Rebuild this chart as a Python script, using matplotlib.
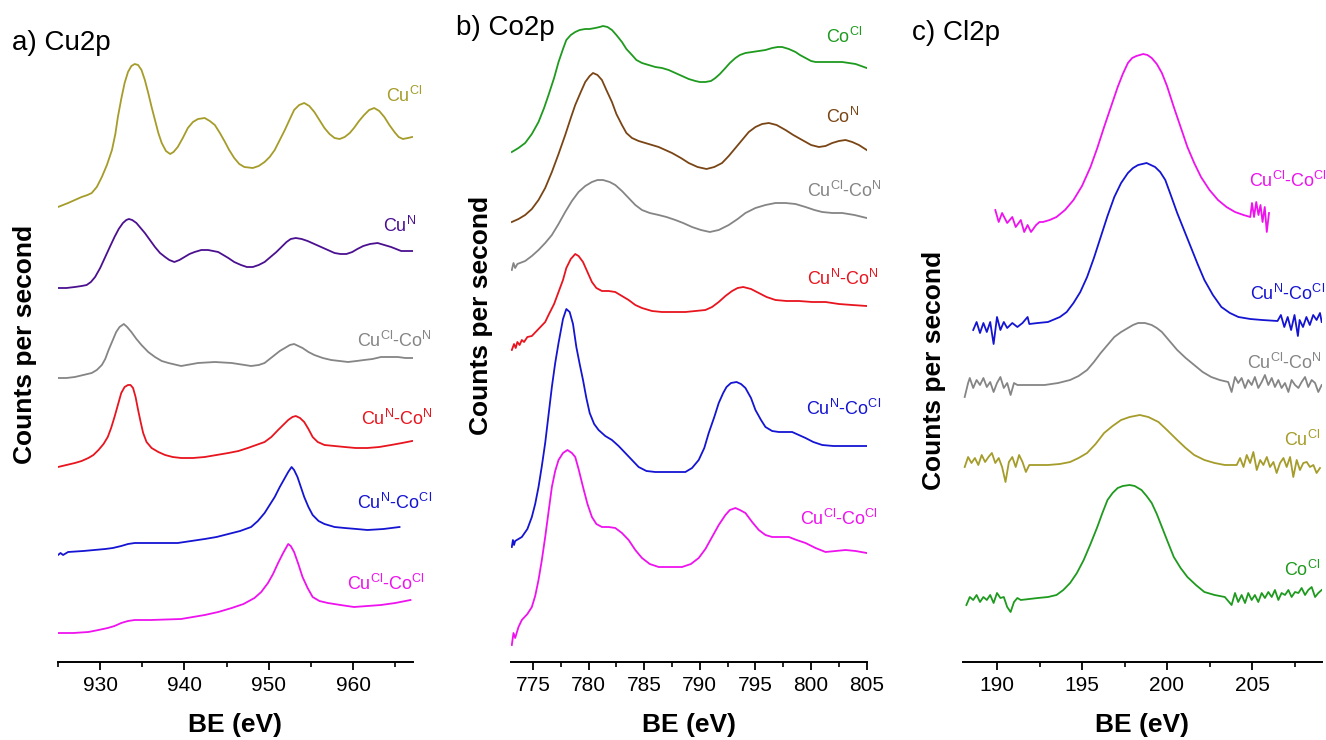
import matplotlib
matplotlib.use('Agg')
import matplotlib.pyplot as plt
import numpy as np
from matplotlib.ticker import MultipleLocator

plt.rcParams['font.family'] = ['Liberation Sans', 'DejaVu Sans']
plt.rcParams['mathtext.fontset'] = 'custom'
plt.rcParams['mathtext.rm'] = 'Liberation Sans'

# ---------------- Panel a) Cu2p (BE in eV, counts in arbitrary units) ----------------
a_CuCl_be = [925.0, 926.2, 927.0, 927.8, 928.5, 929.0, 929.6, 930.2, 930.8, 931.4, 931.8, 932.1, 932.5, 932.9,
             933.3, 933.7, 934.1, 934.5, 934.9, 935.3, 935.7, 936.1, 936.5, 936.9, 937.3, 937.8, 938.3, 938.7,
             939.2, 939.8, 940.4, 941.0, 941.6, 942.4, 943.0, 943.6, 944.2, 944.8, 945.3, 945.9, 946.5, 947.1,
             948.1, 948.8, 949.5, 950.1, 950.7, 951.3, 951.9, 952.5, 953.0, 953.6, 954.2, 954.8, 955.4, 956.0,
             956.6, 957.2, 957.8, 958.4, 959.0, 959.6, 960.1, 960.7, 961.3, 961.9, 962.5, 963.1, 963.7, 964.3,
             964.9, 965.4, 965.9, 966.5, 967.0]
a_CuCl_cps = [455, 459, 462, 465, 467, 469, 475, 485, 497, 512, 528, 545, 563, 579,
              590, 596, 598, 597, 592, 582, 569, 555, 542, 529, 519, 511, 508, 510,
              515, 524, 534, 540, 543, 544, 541, 537, 529, 520, 512, 504, 498, 495,
              494, 496, 500, 505, 512, 522, 532, 543, 552, 557, 559, 556, 550, 542,
              534, 528, 524, 523, 525, 529, 534, 541, 547, 552, 554, 551, 545, 537,
              530, 525, 523, 524, 525]

a_CuN_be = [925.0, 926.0, 927.0, 927.8, 928.4, 928.9, 929.4, 930.0, 930.6, 931.2, 931.7, 932.2, 932.7, 933.1,
            933.4, 933.8, 934.3, 934.8, 935.3, 935.9, 936.5, 937.1, 937.7, 938.2, 938.8, 939.4, 940.0, 940.6,
            941.2, 942.0, 942.8, 943.4, 944.0, 944.6, 945.2, 945.9, 946.7, 947.4, 948.1, 948.8, 949.5, 950.2,
            950.9, 951.5, 952.1, 952.6, 953.2, 953.9, 954.6, 955.4, 956.2, 957.0, 957.8, 958.5, 959.2, 959.9,
            960.5, 961.2, 962.0, 962.9, 963.7, 964.5, 965.1, 965.7, 966.4, 967.0]
a_CuN_cps = [374, 374, 375, 376, 377, 380, 385, 394, 405, 416, 425, 433, 439, 442,
             443, 442, 439, 434, 429, 422, 415, 409, 405, 402, 400, 402, 405, 408,
             410, 412, 412, 411, 410, 407, 404, 400, 397, 395, 395, 397, 400, 405,
             410, 415, 420, 423, 424, 423, 421, 418, 415, 412, 409, 408, 408, 410,
             413, 416, 418, 419, 417, 415, 413, 411, 411, 411]

a_CuClCoN_be = [925.0, 926.0, 927.0, 928.0, 929.0, 929.6, 930.2, 930.6, 931.0, 931.5, 931.9, 932.3, 932.8,
                933.2, 933.7, 934.3, 934.9, 935.7, 936.5, 937.3, 938.1, 939.6, 941.6, 943.6, 945.6, 947.9,
                948.8, 949.5, 950.1, 950.7, 951.3, 951.9, 952.5, 953.0, 953.5, 954.0, 954.7, 955.4, 956.4,
                957.4, 958.4, 959.4, 960.4, 961.3, 962.3, 963.3, 964.3, 965.3, 966.2, 967.0]
a_CuClCoN_cps = [284, 284, 285, 287, 289, 292, 297, 303, 312, 322, 330, 335, 338,
                 335, 330, 323, 317, 310, 305, 301, 299, 296, 299, 300, 299, 296,
                 297, 299, 303, 307, 311, 314, 317, 318, 316, 314, 310, 307, 304,
                 302, 301, 300, 301, 302, 303, 305, 305, 305, 304, 304]

a_CuNCoN_be = [925.0, 926.0, 927.0, 927.8, 928.6, 929.2, 929.8, 930.4, 930.9, 931.3, 931.7, 932.1, 932.5,
               932.9, 933.3, 933.6, 933.9, 934.2, 934.5, 934.8, 935.1, 935.5, 936.1, 936.9, 937.7, 938.6,
               939.6, 941.0, 942.4, 943.8, 945.2, 946.4, 947.5, 948.5, 949.5, 950.3, 951.1, 951.7, 952.3,
               952.8, 953.2, 953.7, 954.2, 954.7, 955.2, 955.8, 956.6, 957.8, 959.0, 960.3, 961.7, 963.1,
               964.5, 965.8, 967.0]
a_CuNCoN_cps = [195, 197, 199, 201, 204, 207, 212, 218, 225, 234, 245, 257, 269,
                275, 277, 277, 274, 265, 252, 240, 229, 220, 214, 210, 207, 205,
                204, 204, 205, 207, 209, 211, 214, 217, 220, 225, 232, 237, 242,
                245, 246, 244, 240, 233, 225, 220, 217, 216, 215, 214, 214, 215,
                217, 219, 221]

a_CuNCoCl_be = [925.0, 925.3, 925.6, 926.2, 928.0, 930.6, 931.5, 932.5, 933.3, 934.1, 936.0, 939.2, 940.8,
                942.4, 943.8, 945.2, 946.6, 947.9, 948.7, 949.5, 950.1, 950.7, 951.3, 951.9, 952.3, 952.7,
                953.0, 953.4, 953.8, 954.2, 954.7, 955.2, 955.9, 956.6, 957.8, 959.0, 960.4, 961.7, 963.6,
                965.5]
a_CuNCoCl_cps = [107, 109, 107, 110, 111, 113, 114, 116, 118, 119, 119, 119, 121,
                 123, 125, 128, 131, 135, 141, 149, 157, 165, 175, 184, 190, 195,
                 192, 185, 175, 165, 155, 147, 141, 138, 135, 134, 133, 132, 133,
                 135]

a_CuClCoCl_be = [925.0, 926.8, 928.6, 929.8, 930.9, 931.7, 932.5, 933.3, 934.1, 936.0, 939.6, 941.0, 942.4,
                 944.0, 945.6, 947.0, 948.3, 949.1, 949.9, 950.5, 951.1, 951.7, 952.3, 952.6, 953.0, 953.5,
                 954.0, 954.6, 955.2, 956.0, 957.0, 958.5, 960.1, 961.7, 963.3, 965.0, 966.8]
a_CuClCoCl_cps = [29, 29, 30, 32, 34, 36, 39, 41, 42, 42, 43, 45, 47,
                  50, 54, 58, 64, 70, 79, 88, 99, 109, 118, 116, 110, 98,
                  85, 74, 65, 61, 59, 57, 55, 56, 57, 59, 62]

# ---------------- Panel b) Co2p ----------------
b_CoCl_be = [773.1, 773.7, 774.3, 774.9, 775.5, 776.0, 776.4, 776.9, 777.3, 777.7, 778.0, 778.4, 778.8,
             779.2, 779.7, 780.1, 780.6, 781.0, 781.3, 781.7, 782.1, 782.5, 783.0, 783.4, 783.9, 784.3,
             784.8, 785.4, 786.0, 786.6, 787.2, 787.8, 788.4, 789.0, 789.6, 790.0, 790.5, 791.0, 791.4,
             791.8, 792.3, 792.7, 793.2, 793.6, 794.1, 794.7, 795.3, 795.9, 796.5, 797.0, 797.4, 798.0,
             798.6, 799.0, 799.5, 800.0, 800.4, 801.0, 801.6, 802.2, 802.8, 803.4, 804.0, 804.5, 805.0]
b_CoCl_cps = [510, 514, 519, 528, 540, 554, 567, 584, 600, 613, 622, 627, 630,
              632, 633, 633, 634, 635, 636, 635, 632, 627, 620, 613, 607, 602,
              599, 597, 595, 594, 592, 589, 586, 583, 581, 580, 580, 581, 584,
              588, 594, 599, 604, 607, 609, 610, 611, 612, 614, 615, 615, 613,
              610, 607, 604, 601, 600, 600, 600, 600, 600, 599, 598, 596, 594]

b_CoN_be = [773.1, 773.7, 774.3, 774.9, 775.5, 776.1, 776.7, 777.3, 777.9, 778.4, 778.8, 779.3, 779.7,
            780.1, 780.4, 780.8, 781.2, 781.6, 782.1, 782.5, 783.0, 783.4, 783.9, 784.5, 785.1, 785.7,
            786.3, 786.9, 787.5, 788.3, 789.0, 789.8, 790.6, 791.3, 792.0, 792.6, 793.2, 793.8, 794.4,
            795.0, 795.6, 796.2, 796.9, 797.7, 798.4, 799.2, 800.0, 800.7, 801.3, 801.9, 802.5, 803.1,
            803.7, 804.3, 805.0]
b_CoN_cps = [440, 443, 447, 453, 462, 474, 490, 508, 527, 544, 557, 570, 580,
             586, 589, 587, 582, 572, 560, 548, 537, 529, 524, 521, 519, 517,
             515, 512, 509, 504, 499, 495, 493, 495, 499, 506, 514, 522, 530,
             535, 538, 539, 537, 532, 527, 522, 517, 515, 516, 519, 521, 522,
             520, 517, 512]

b_CuClCoN_be = [773.1, 773.25, 773.4, 773.6, 774.3, 774.9, 775.5, 776.1, 776.7, 777.3, 777.9, 778.5, 779.1,
                779.7, 780.3, 780.8, 781.3, 781.9, 782.4, 783.0, 783.6, 784.2, 784.8, 785.5, 786.3, 787.0,
                787.8, 788.5, 789.3, 790.1, 790.9, 791.7, 792.6, 793.4, 794.1, 795.0, 795.9, 796.8, 797.7,
                798.6, 799.5, 800.3, 801.0, 801.9, 802.8, 803.9, 805.0]
b_CuClCoN_cps = [392, 399, 394, 398, 401, 406, 412, 419, 427, 438, 450, 461, 470,
                 476, 480, 482, 482, 480, 477, 471, 464, 457, 452, 449, 447, 445,
                 442, 439, 435, 432, 430, 432, 437, 443, 449, 454, 457, 459, 459,
                 458, 455, 452, 450, 449, 449, 447, 444]

b_CuNCoN_be = [773.1, 773.3, 773.45, 773.6, 773.8, 774.0, 774.2, 774.5, 774.9, 775.5, 776.1, 776.4, 776.9,
               777.3, 777.7, 778.0, 778.4, 778.8, 779.1, 779.5, 779.9, 780.3, 780.7, 781.2, 781.8, 782.4,
               783.0, 783.6, 784.2, 784.8, 785.7, 786.6, 787.7, 788.7, 789.6, 790.5, 791.1, 791.7, 792.3,
               792.9, 793.4, 793.9, 794.6, 795.3, 796.0, 796.8, 797.8, 798.9, 800.1, 801.3, 802.5, 803.7,
               805.0]
b_CuNCoN_cps = [312, 318, 314, 320, 317, 322, 320, 325, 326, 333, 340, 347, 358,
                370, 382, 394, 403, 408, 406, 400, 390, 380, 374, 371, 371, 370,
                366, 362, 357, 354, 351, 350, 350, 350, 351, 352, 355, 360, 366,
                371, 374, 375, 373, 369, 365, 362, 361, 361, 360, 360, 358, 357,
                356]

b_CuNCoCl_be = [773.1, 773.2, 773.3, 773.4, 773.7, 774.0, 774.5, 774.9, 775.2, 775.5, 775.8, 776.1, 776.4,
                776.7, 777.0, 777.3, 777.7, 778.0, 778.3, 778.6, 778.9, 779.2, 779.5, 779.8, 780.1, 780.5,
                780.9, 781.5, 782.1, 782.7, 783.3, 783.9, 784.5, 785.2, 786.0, 787.4, 788.7, 789.3, 789.9,
                790.4, 790.8, 791.3, 791.7, 792.1, 792.4, 792.8, 793.3, 793.7, 794.1, 794.6, 795.0, 795.5,
                795.9, 796.5, 797.1, 797.7, 798.3, 798.9, 799.5, 800.2, 801.0, 802.0, 803.1, 804.0, 805.0]
b_CuNCoCl_cps = [115, 122, 117, 121, 123, 125, 133, 145, 158, 175, 196, 219, 247,
                 275, 299, 319, 343, 353, 350, 338, 315, 298, 282, 264, 249, 238,
                 232, 226, 222, 216, 209, 202, 195, 191, 190, 190, 190, 194, 202,
                 214, 229, 245, 259, 269, 275, 279, 280, 278, 274, 264, 252, 242,
                 235, 231, 230, 230, 230, 227, 224, 220, 217, 216, 216, 216, 216]

b_CuClCoCl_be = [773.1, 773.25, 773.4, 773.7, 774.0, 774.5, 774.9, 775.2, 775.5, 775.8, 776.1, 776.4, 776.7,
                 777.0, 777.3, 777.7, 778.1, 778.5, 778.8, 779.1, 779.5, 779.9, 780.3, 780.7, 781.2, 781.8,
                 782.4, 783.0, 783.6, 784.2, 784.8, 785.5, 786.3, 787.3, 788.4, 789.2, 789.9, 790.5, 791.1,
                 791.7, 792.3, 792.7, 793.2, 793.6, 794.1, 794.7, 795.3, 795.9, 796.5, 797.2, 798.0, 798.7,
                 799.5, 800.4, 801.3, 802.2, 803.1, 804.0, 805.0]
b_CuClCoCl_cps = [17, 29, 24, 35, 42, 48, 55, 66, 82, 102, 125, 150, 175,
                  191, 202, 209, 212, 209, 205, 193, 175, 158, 145, 138, 135, 135,
                  134, 129, 122, 112, 104, 98, 95, 95, 95, 98, 104, 113, 125,
                  137, 147, 152, 154, 152, 149, 140, 132, 127, 125, 125, 125, 122,
                  119, 114, 110, 111, 112, 111, 109]

# ---------------- Panel c) Cl2p ----------------
c_CuClCoCl_be = [189.9, 190.1, 190.3, 190.6, 190.9, 191.1, 191.4, 191.6, 191.8, 192.0, 192.3, 192.5, 192.7,
                 193.1, 193.5, 194.0, 194.5, 195.0, 195.5, 195.9, 196.3, 196.7, 197.1, 197.4, 197.7, 197.95,
                 198.2, 198.6, 198.85, 199.1, 199.4, 199.7, 200.0, 200.4, 200.8, 201.2, 201.6, 202.0, 202.5,
                 203.0, 203.5, 204.0, 204.5, 204.9,
                 205.0, 205.12, 205.25, 205.38, 205.5, 205.62, 205.75, 205.87, 206.0]
c_CuClCoCl_cps = [452, 440, 449, 439, 445, 435, 442, 430, 437, 430, 437, 440, 440,
                  442, 445, 452, 462, 476, 495, 514, 535, 555, 575, 588, 599, 604,
                  606, 608, 607, 604, 598, 589, 576, 555, 535, 515, 499, 485, 472,
                  462, 455, 450, 447, 445,
                  459, 445, 460, 447, 457, 440, 455, 430, 449]

c_CuNCoCl_be = [188.6, 188.8, 189.0, 189.2, 189.4, 189.6, 189.8, 190.0, 190.2, 190.4, 190.6, 190.9, 191.2,
                191.5, 191.8, 191.9,
                192.4, 193.0, 193.7, 194.1, 194.5, 194.9, 195.3, 195.7, 196.1, 196.5, 196.9, 197.3, 197.7,
                198.0, 198.3, 198.8, 199.3, 199.6, 199.9, 200.2, 200.6, 201.0, 201.4, 201.8, 202.2, 202.7,
                203.2, 203.7, 204.2, 204.9, 205.6, 206.5,
                206.7, 206.9, 207.1, 207.3, 207.5, 207.7, 207.8, 208.0, 208.2, 208.4, 208.6, 208.8, 209.0, 209.1]
c_CuNCoCl_cps = [332, 340, 329, 339, 330, 340, 318, 345, 332, 340, 334, 339, 335,
                 339, 345, 338,
                 339, 340, 345, 350, 359, 370, 385, 404, 425, 446, 465, 479, 489,
                 494, 497, 499, 495, 490, 482, 468, 449, 432, 415, 398, 382, 367,
                 355, 349, 345, 343, 342, 341,
                 347, 335, 345, 332, 347, 326, 342, 335, 345, 337, 347, 342, 349, 340]

c_CuClCoN_be = ([188.1, 188.3, 188.4, 188.6, 188.8, 189.0, 189.2, 189.4, 189.6, 189.8, 190.0, 190.2, 190.4,
                 190.6, 190.8, 191.0, 191.2,
                 192.0, 192.8, 193.6, 194.3, 194.8, 195.3, 195.7, 196.1, 196.5, 196.9, 197.3, 197.7, 198.0,
                 198.3, 198.7, 199.1, 199.4, 199.7, 200.1, 200.6, 201.1, 201.6, 202.1, 202.6, 203.1, 203.6]
                + list(np.round(np.linspace(203.8, 209.1, 28), 2)))
c_CuClCoN_cps = [265, 279, 284, 274, 282, 277, 284, 275, 280, 270, 279, 285, 274,
                 279, 267, 279, 277,
                 277, 277, 279, 282, 286, 292, 300, 309, 317, 325, 330, 334, 337,
                 339, 339, 337, 334, 330, 322, 312, 304, 297, 290, 285, 282, 280,
                 270, 285, 279, 284, 274, 282, 277, 285, 274, 280, 287, 277, 284, 275,
                 282, 274, 279, 270, 282, 277, 274, 280, 285, 275, 282, 279, 270, 277]

c_CuCl_be = (list(np.round(np.linspace(188.1, 191.9, 20), 2))
             + [193.0, 193.7, 194.3, 194.8, 195.3, 195.8, 196.3, 196.8, 197.3, 197.8, 198.4, 198.9, 199.5,
                200.0, 200.6, 201.1, 201.6, 202.2, 202.8, 203.4, 204.1]
             + list(np.round(np.linspace(204.3, 209.0, 25), 2)))
c_CuCl_cps = [195, 205, 199, 204, 197, 207, 200, 205, 209, 199, 204, 195, 180, 200, 205, 195, 207, 200, 190, 197,
              197, 198, 200, 204, 209, 218, 229, 236, 242, 245, 247, 245, 240,
              232, 222, 214, 207, 202, 199, 197, 197,
              204, 195, 207, 199, 210, 192, 202, 197, 205, 195, 200, 189, 199, 204, 195, 205, 185, 202, 192,
              199, 200, 195, 197, 189, 194]

c_CoCl_be = (list(np.round(np.linspace(188.2, 191.4, 17), 2))
             + [192.4, 193.0, 193.5, 193.9, 194.3, 194.7, 195.1, 195.5, 195.9, 196.2, 196.5, 196.8, 197.1,
                197.4, 197.8, 198.1, 198.5, 198.8, 199.1, 199.4, 199.7, 200.0, 200.4, 200.8, 201.2, 201.7,
                202.2, 202.8, 203.4]
             + list(np.round(np.linspace(203.8, 209.1, 28), 2)))
c_CoCl_cps = [57, 65, 62, 67, 60, 65, 62, 67, 59, 69, 64, 65, 55, 50, 60, 64, 62,
              64, 65, 67, 72, 79, 89, 102, 118, 135, 149, 162, 169, 174,
              176, 177, 176, 172, 166, 159, 148, 135, 122, 105, 94, 85, 77,
              70, 67, 65,
              57, 69, 60, 67, 59, 69, 62, 67, 60, 69, 64, 70, 65, 72, 62, 69, 67, 72, 65, 70,
              69, 74, 67, 72, 75, 65, 69, 72]

# colours
C_CUCL = '#A59C2A'
C_CUN = '#4B1090'
C_GRAY = '#858585'
C_RED = '#E8141E'
C_BLUE = '#1414D2'
C_MAG = '#EE12EE'
C_GREEN = '#1E9A1E'
C_BROWN = '#7A4515'

L_CUCL = r'Cu$^{\mathregular{Cl}}$'
L_CUN = r'Cu$^{\mathregular{N}}$'
L_COCL = r'Co$^{\mathregular{Cl}}$'
L_CON = r'Co$^{\mathregular{N}}$'
L_CUCL_CON = r'Cu$^{\mathregular{Cl}}$-Co$^{\mathregular{N}}$'
L_CUN_CON = r'Cu$^{\mathregular{N}}$-Co$^{\mathregular{N}}$'
L_CUN_COCL = r'Cu$^{\mathregular{N}}$-Co$^{\mathregular{Cl}}$'
L_CUCL_COCL = r'Cu$^{\mathregular{Cl}}$-Co$^{\mathregular{Cl}}$'

panel_a = [
    (a_CuCl_be, a_CuCl_cps, C_CUCL, L_CUCL, 963.9, 560),
    (a_CuN_be, a_CuN_cps, C_CUN, L_CUN, 963.5, 430),
    (a_CuClCoN_be, a_CuClCoN_cps, C_GRAY, L_CUCL_CON, 960.5, 315),
    (a_CuNCoN_be, a_CuNCoN_cps, C_RED, L_CUN_CON, 960.9, 237),
    (a_CuNCoCl_be, a_CuNCoCl_cps, C_BLUE, L_CUN_COCL, 960.5, 153),
    (a_CuClCoCl_be, a_CuClCoCl_cps, C_MAG, L_CUCL_COCL, 959.3, 72),
]
panel_b = [
    (b_CoCl_be, b_CoCl_cps, C_GREEN, L_COCL, 801.3, 619),
    (b_CoN_be, b_CoN_cps, C_BROWN, L_CON, 801.3, 539),
    (b_CuClCoN_be, b_CuClCoN_cps, C_GRAY, L_CUCL_CON, 799.6, 465),
    (b_CuNCoN_be, b_CuNCoN_cps, C_RED, L_CUN_CON, 799.6, 377),
    (b_CuNCoCl_be, b_CuNCoCl_cps, C_BLUE, L_CUN_COCL, 799.5, 247),
    (b_CuClCoCl_be, b_CuClCoCl_cps, C_MAG, L_CUCL_COCL, 799.0, 137),
]
panel_c = [
    (c_CuClCoCl_be, c_CuClCoCl_cps, C_MAG, L_CUCL_COCL, 204.8, 475),
    (c_CuNCoCl_be, c_CuNCoCl_cps, C_BLUE, L_CUN_COCL, 204.9, 362),
    (c_CuClCoN_be, c_CuClCoN_cps, C_GRAY, L_CUCL_CON, 204.7, 293),
    (c_CuCl_be, c_CuCl_cps, C_CUCL, L_CUCL, 206.9, 216),
    (c_CoCl_be, c_CoCl_cps, C_GREEN, L_COCL, 206.9, 86),
]

W, H = 1326, 740
fig = plt.figure(figsize=(W / 100, H / 100), dpi=100)

specs = [
    (panel_a, 58, 413, (925, 967.1), 10, 5, 'a) Cu2p', (11.5, 50), (25, 344)),
    (panel_b, 510.7, 866.7, (773, 805), 5, 2.5, 'b) Co2p', (456.5, 35), (481, 315)),
    (panel_c, 963, 1321.7, (188, 209.1), 5, 2.5, 'c) Cl2p', (911.5, 40), (934, 370)),
]

for curves, lpx, rpx, xlim, major, minor, title, tpos, ylpos in specs:
    ax = fig.add_axes([lpx / W, (H - 662) / H, (rpx - lpx) / W, 642 / H])
    for be, cps, col, lab, lx, ly in curves:
        ax.plot(be, cps, color=col, lw=1.3, solid_joinstyle='round')
        ax.text(lx, ly, lab, color=col, fontsize=13, ha='left', va='baseline', clip_on=False)
    ax.set_xlim(*xlim)
    ax.set_ylim(0, 642)
    ax.set_yticks([])
    for s in ['left', 'right', 'top']:
        ax.spines[s].set_visible(False)
    ax.spines['bottom'].set_linewidth(1.4)
    ax.xaxis.set_major_locator(MultipleLocator(major))
    ax.xaxis.set_minor_locator(MultipleLocator(minor))
    ax.tick_params(axis='x', which='major', direction='out', length=6, width=1.3, labelsize=15, pad=4)
    ax.tick_params(axis='x', which='minor', direction='out', length=3.5, width=1.2)
    ax.patch.set_visible(False)
    cx = (lpx + rpx) / 2
    fig.text(cx / W, (H - 732) / H, 'BE (eV)', fontsize=19, fontweight='bold', ha='center', va='baseline')
    fig.text(tpos[0] / W, (H - tpos[1]) / H, title, fontsize=20, ha='left', va='baseline')
    fig.text(ylpos[0] / W, (H - ylpos[1]) / H, 'Counts per second', fontsize=19, fontweight='bold',
             rotation=90, ha='center', va='center')

fig.savefig('out.png', dpi=100)
